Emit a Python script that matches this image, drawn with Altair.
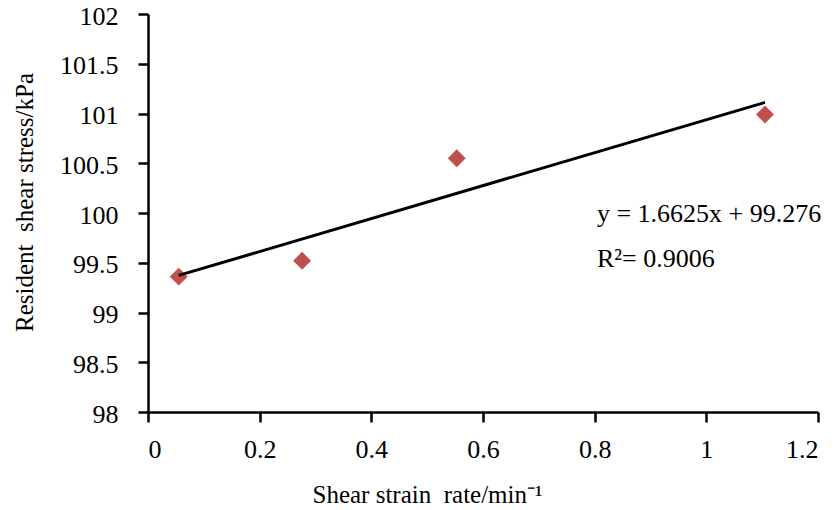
import altair as alt
import pandas as pd

# shear strain rate (1/min) vs resident shear stress (kPa)
rate = [0.055, 0.276, 0.553, 1.105]
stress = [99.36, 99.52, 100.55, 100.99]

x_ticks = [0, 0.2, 0.4, 0.6, 0.8, 1.0, 1.2]
y_ticks = [98, 98.5, 99, 99.5, 100, 100.5, 101, 101.5, 102]

# trendline equation labels, placed in data units
note_text = ["y = 1.6625x + 99.276", "R\u00b2= 0.9006"]
note_x = [0.804, 0.804]
note_y = [99.91, 99.457]

FONT = "Liberation Serif"

points = pd.DataFrame({"rate": rate, "stress": stress})
notes = pd.DataFrame({"rate": note_x, "stress": note_y, "text": note_text})

x_enc = alt.X(
    "rate:Q",
    scale=alt.Scale(domain=[0, 1.2], nice=False),
    axis=alt.Axis(
        values=x_ticks, format="~g", labelPadding=14,
        title="Shear strain\u00a0 rate/min\u207b\u00b9",
        titleX=279, titleY=90, titleAlign="center", titleBaseline="alphabetic",
    ),
)
y_enc = alt.Y(
    "stress:Q",
    scale=alt.Scale(domain=[98, 102], nice=False, zero=False),
    axis=alt.Axis(
        values=y_ticks, format="~g", labelPadding=20, labelOffset=2,
        title="Resident\u00a0 shear stress/kPa",
        titleX=-116, titleY=188, titleAngle=270,
        titleAlign="center", titleBaseline="alphabetic",
    ),
)

base = alt.Chart(points).encode(x=x_enc, y=y_enc)

dots = base.mark_point(shape="diamond", filled=True, size=320,
                       color="#C0504D", opacity=1)

trend = base.transform_regression("rate", "stress").mark_line(
    color="black", strokeWidth=3)

labels = alt.Chart(notes).mark_text(
    align="left", baseline="alphabetic", font=FONT, fontSize=26, color="black"
).encode(x="rate:Q", y="stress:Q", text="text:N")

chart = alt.layer(dots, trend, labels).properties(
    width=670,
    height=398,
    autosize=alt.AutoSizeParams(type="none"),
    padding={"left": 140, "top": 6, "right": 10, "bottom": 96},
).configure_axis(
    grid=False,
    domainColor="black",
    domainWidth=2.5,
    tickColor="black",
    tickWidth=2.5,
    tickSize=10,
    labelFont=FONT,
    labelFontSize=26,
    labelColor="black",
    titleFont=FONT,
    titleFontSize=25,
    titleFontWeight="normal",
    titleColor="black",
).configure_view(
    strokeWidth=0
)

chart.save("out.html", embed_options={"renderer": "svg", "actions": False})
